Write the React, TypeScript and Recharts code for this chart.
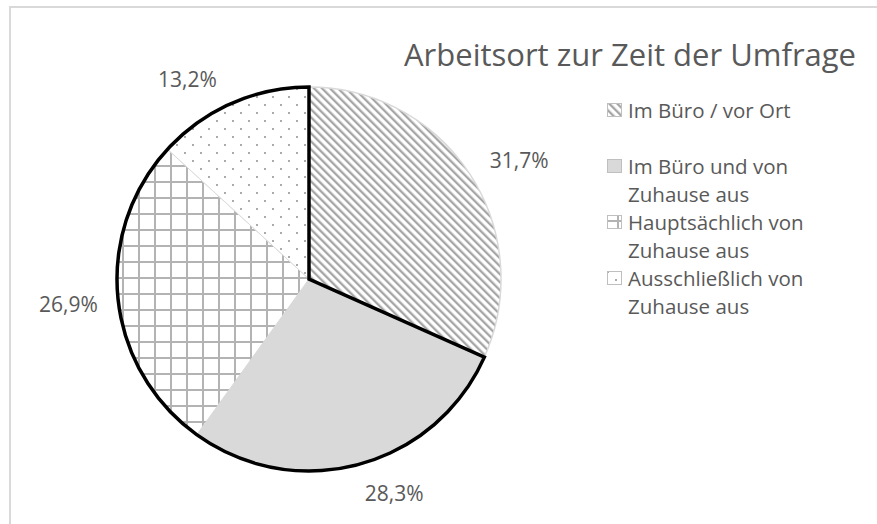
import React from 'react';
import { PieChart, Pie, Cell, Legend } from 'recharts';

const categories = [
  'Im Büro / vor Ort',
  'Im Büro und von Zuhause aus',
  'Hauptsächlich von Zuhause aus',
  'Ausschließlich von Zuhause aus',
];
const shares = [31.7, 28.3, 26.9, 13.2];
const chartTitle = 'Arbeitsort zur Zeit der Umfrage';

const data = categories.map((name, i) => ({ name, value: shares[i] }));
const outlineData = [
  { name: 'rest', value: shares[0] },
  { name: 'group', value: shares.slice(1).reduce((a, b) => a + b, 0) },
];

const FILLS = ['url(#pStripes)', '#d9d9d9', 'url(#pGrid)', 'url(#pDots)'];
const TEXT = '#595959';
const FONT = '"Open Sans", sans-serif';
const CX = 304;
const CY = 274;
const R = 192;
const LABEL_NUDGE = [-3.5, 6.6, 0, 7.5];
const RADIAN = Math.PI / 180;

const fmt = (v: number) => v.toFixed(1).replace('.', ',') + '%';

const renderLabel = (props: any) => {
  const { cx, cy, midAngle, outerRadius, index, value } = props;
  const a = (midAngle + LABEL_NUDGE[index]) * RADIAN;
  const c = Math.cos(a);
  const s = Math.sin(a);
  const w = 60;
  const h = 18;
  const d = outerRadius + 19 + (w / 2) * Math.abs(c) + (h / 2) * Math.abs(s);
  const x = cx + d * c;
  const y = cy - d * s;
  return (
    <text
      x={x}
      y={y}
      fill={TEXT}
      fontSize={21}
      fontFamily={FONT}
      textAnchor="middle"
      dominantBaseline="central"
    >
      {fmt(value)}
    </text>
  );
};

const Icon = ({ i }: { i: number }) => (
  <svg width={15} height={14} style={{ position: 'absolute', left: 0, top: 7 }}>
    <rect x={0.5} y={0.5} width={14} height={13} fill={FILLS[i]} stroke="#bfbfbf" strokeWidth={1} />
  </svg>
);

const renderLegend = () => (
  <div style={{ fontFamily: FONT, fontSize: 20.5, color: TEXT, lineHeight: '28px' }}>
    {categories.map((c, i) => (
      <div key={c} style={{ position: 'relative', minHeight: 56, paddingLeft: 21, width: 205 }}>
        <Icon i={i} />
        {c}
      </div>
    ))}
  </div>
);

export default function App() {
  return (
    <div
      style={{
        position: 'fixed',
        left: 0,
        top: 0,
        width: 877,
        height: 524,
        background: '#fff',
        overflow: 'hidden',
      }}
    >
      <div
        style={{
          position: 'absolute',
          left: 9,
          top: 6,
          width: 900,
          height: 600,
          border: '2px solid #d9d9d9',
          boxSizing: 'border-box',
        }}
      />
      <div style={{ position: 'absolute', left: 0, top: 0 }}>
        <PieChart width={877} height={524}>
          <defs>
            <pattern
              id="pStripes"
              patternUnits="userSpaceOnUse"
              width={5.66}
              height={5.66}
              patternTransform="rotate(-45)"
            >
              <rect width={5.66} height={5.66} fill="#ffffff" />
              <rect x={0} y={0} width={2.3} height={5.66} fill="#a6a6a6" />
            </pattern>
            <pattern id="pGrid" patternUnits="userSpaceOnUse" x={10} y={5} width={16} height={16}>
              <rect width={16} height={16} fill="#ffffff" />
              <rect x={0} y={0} width={2} height={16} fill="#b3b3b3" />
              <rect x={0} y={0} width={16} height={2} fill="#b3b3b3" />
            </pattern>
            <pattern id="pDots" patternUnits="userSpaceOnUse" width={16} height={16}>
              <rect width={16} height={16} fill="#ffffff" />
              <rect x={0} y={0} width={2} height={2} fill="#ababab" />
              <rect x={8} y={8} width={2} height={2} fill="#ababab" />
            </pattern>
          </defs>
          <text x={404} y={66} fill={TEXT} fontSize={31} fontFamily={FONT}>
            {chartTitle}
          </text>
          <Pie
            data={data}
            dataKey="value"
            nameKey="name"
            cx={CX}
            cy={CY}
            outerRadius={R}
            startAngle={90}
            endAngle={-270}
            isAnimationActive={false}
            label={renderLabel}
            labelLine={false}
            legendType="square"
          >
            {data.map((d, i) => (
              <Cell key={d.name} fill={FILLS[i]} stroke="#d9d9d9" strokeWidth={i === 0 ? 1.5 : 1} />
            ))}
          </Pie>
          <Pie
            data={outlineData}
            dataKey="value"
            cx={CX}
            cy={CY}
            outerRadius={R}
            startAngle={90}
            endAngle={-270}
            isAnimationActive={false}
            legendType="none"
          >
            <Cell fill="none" stroke="none" />
            <Cell fill="none" stroke="#000000" strokeWidth={3.5} />
          </Pie>
          <Legend
            content={renderLegend}
            wrapperStyle={{ position: 'absolute', left: 607, top: 96, width: 270 }}
          />
        </PieChart>
      </div>
    </div>
  );
}
